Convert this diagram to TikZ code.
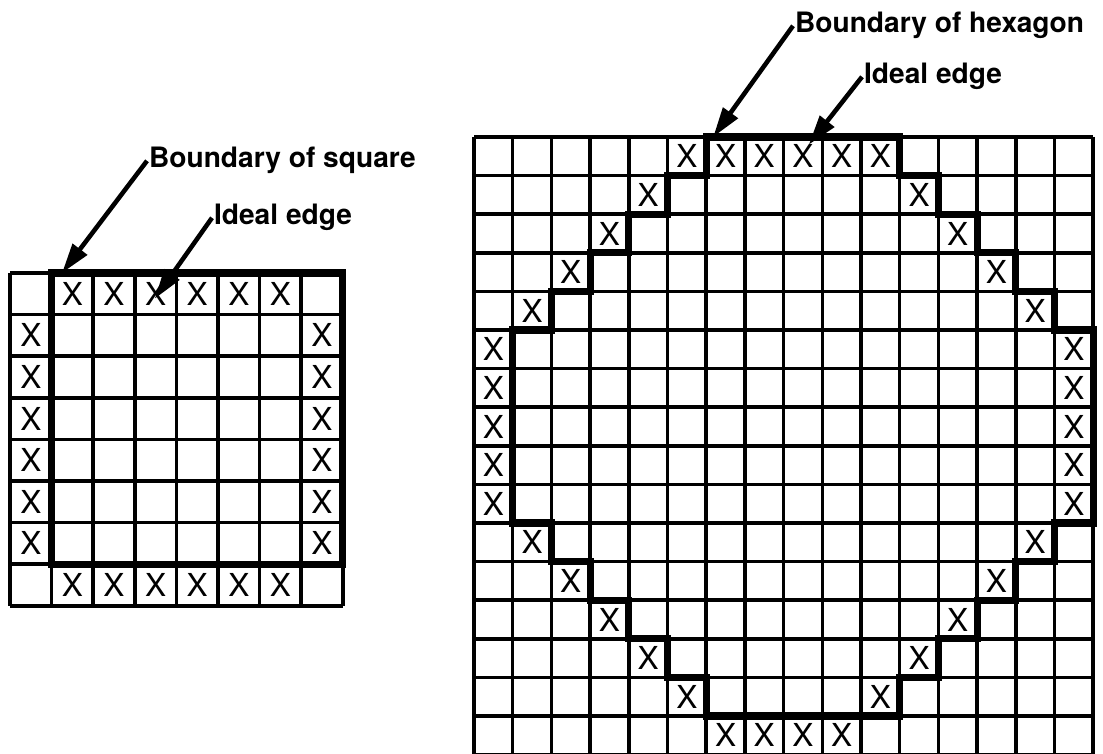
\documentclass[tikz,border=0pt]{standalone}
\usepackage{fontspec}
\setmainfont{TeX Gyre Heros}
\usepackage{tikz}
\usetikzlibrary{arrows.meta}

\begin{document}
\begin{tikzpicture}[
  gridline/.style={line width=2pt},
  boundary/.style={line width=4pt, line join=miter},
  xmark/.style={inner sep=0pt, font=\fontsize{18}{18}\selectfont},
  lbltext/.style={inner sep=1pt, anchor=base west, font=\bfseries\fontsize{16}{19}\selectfont},
  lblarrow/.style={line width=2.6pt, -{Triangle[length=17pt,width=10pt]}}
]
\useasboundingbox[fill=white] (0,0) rectangle (22.06,-15.08);

% square
\begin{scope}[shift={(0.2,-5.46)}, x=0.832cm, y=-0.832cm]
\foreach \i in {0,...,8}
{
\draw[gridline] (\i,0) -- (\i,8);
\draw[gridline] (0,\i) -- (8,\i);
}
\foreach \i in {1,...,6}
{
\node[xmark] (sqt\i) at (\i+0.5,0.5) {X};
\node[xmark] (sqb\i) at (\i+0.5,7.5) {X};
\node[xmark] (sql\i) at (0.5,\i+0.5) {X};
\node[xmark] (sqr\i) at (7.5,\i+0.5) {X};
}
\draw[boundary] (1,0) -- (8,0) -- (8,7) -- (1,7) -- cycle;
\coordinate (sqcorner) at (1.25,0);
\coordinate (sqedge) at (3.48,0.62);
\end{scope}

% hexagon
\begin{scope}[shift={(9.48,-2.74)}, x=0.774cm, y=-0.772cm]
\foreach \i in {0,...,16}
{
\draw[gridline] (\i,0) -- (\i,16);
\draw[gridline] (0,\i) -- (16,\i);
}
\foreach \c in {5,...,10}
\node[xmark] (hxt\c) at (\c+0.5,0.5) {X};
\foreach \r in {1,...,4}
{
\node[xmark] (hxl\r) at (5-\r+0.5,\r+0.5) {X};
\node[xmark] (hxr\r) at (10+\r+0.5,\r+0.5) {X};
}
\foreach \r in {5,...,9}
{
\node[xmark] (hxl\r) at (0.5,\r+0.5) {X};
\node[xmark] (hxr\r) at (15.5,\r+0.5) {X};
}
\foreach \r in {10,...,14}
{
\node[xmark] (hxl\r) at (\r-9+0.5,\r+0.5) {X};
\node[xmark] (hxr\r) at (24-\r+0.5,\r+0.5) {X};
}
\foreach \c in {6,...,9}
\node[xmark] (hxb\c) at (\c+0.5,15.5) {X};
\draw[boundary] (6,0) -- (11,0) -- (11,1) -- (12,1) -- (12,2) -- (13,2) -- (13,3)
  -- (14,3) -- (14,4) -- (15,4) -- (15,5) -- (16,5) -- (16,10) -- (15,10) -- (15,11)
  -- (14,11) -- (14,12) -- (13,12) -- (13,13) -- (12,13) -- (12,14) -- (11,14)
  -- (11,15) -- (6,15) -- (6,14) -- (5,14) -- (5,13) -- (4,13) -- (4,12) -- (3,12)
  -- (3,11) -- (2,11) -- (2,10) -- (1,10) -- (1,5) -- (2,5) -- (2,4) -- (3,4)
  -- (3,3) -- (4,3) -- (4,2) -- (5,2) -- (5,1) -- (6,1) -- cycle;
\coordinate (hexcorner) at (6.18,0);
\coordinate (hexedge) at (8.65,0.2);
\end{scope}

\node[lbltext] (sqbound) at (2.94,-3.36) {Boundary of square};
\node[lbltext] (sqideal) at (4.24,-4.5) {Ideal edge};
\node[lbltext] (hexbound) at (15.86,-0.66) {Boundary of hexagon};
\node[lbltext] (hexideal) at (17.24,-1.68) {Ideal edge};

\draw[lblarrow] (sqbound.west) -- (sqcorner);
\draw[lblarrow] (sqideal.west) -- (sqedge);
\draw[lblarrow] (hexbound.west) -- (hexcorner);
\draw[lblarrow] (hexideal.west) -- (hexedge);
\end{tikzpicture}
\end{document}
